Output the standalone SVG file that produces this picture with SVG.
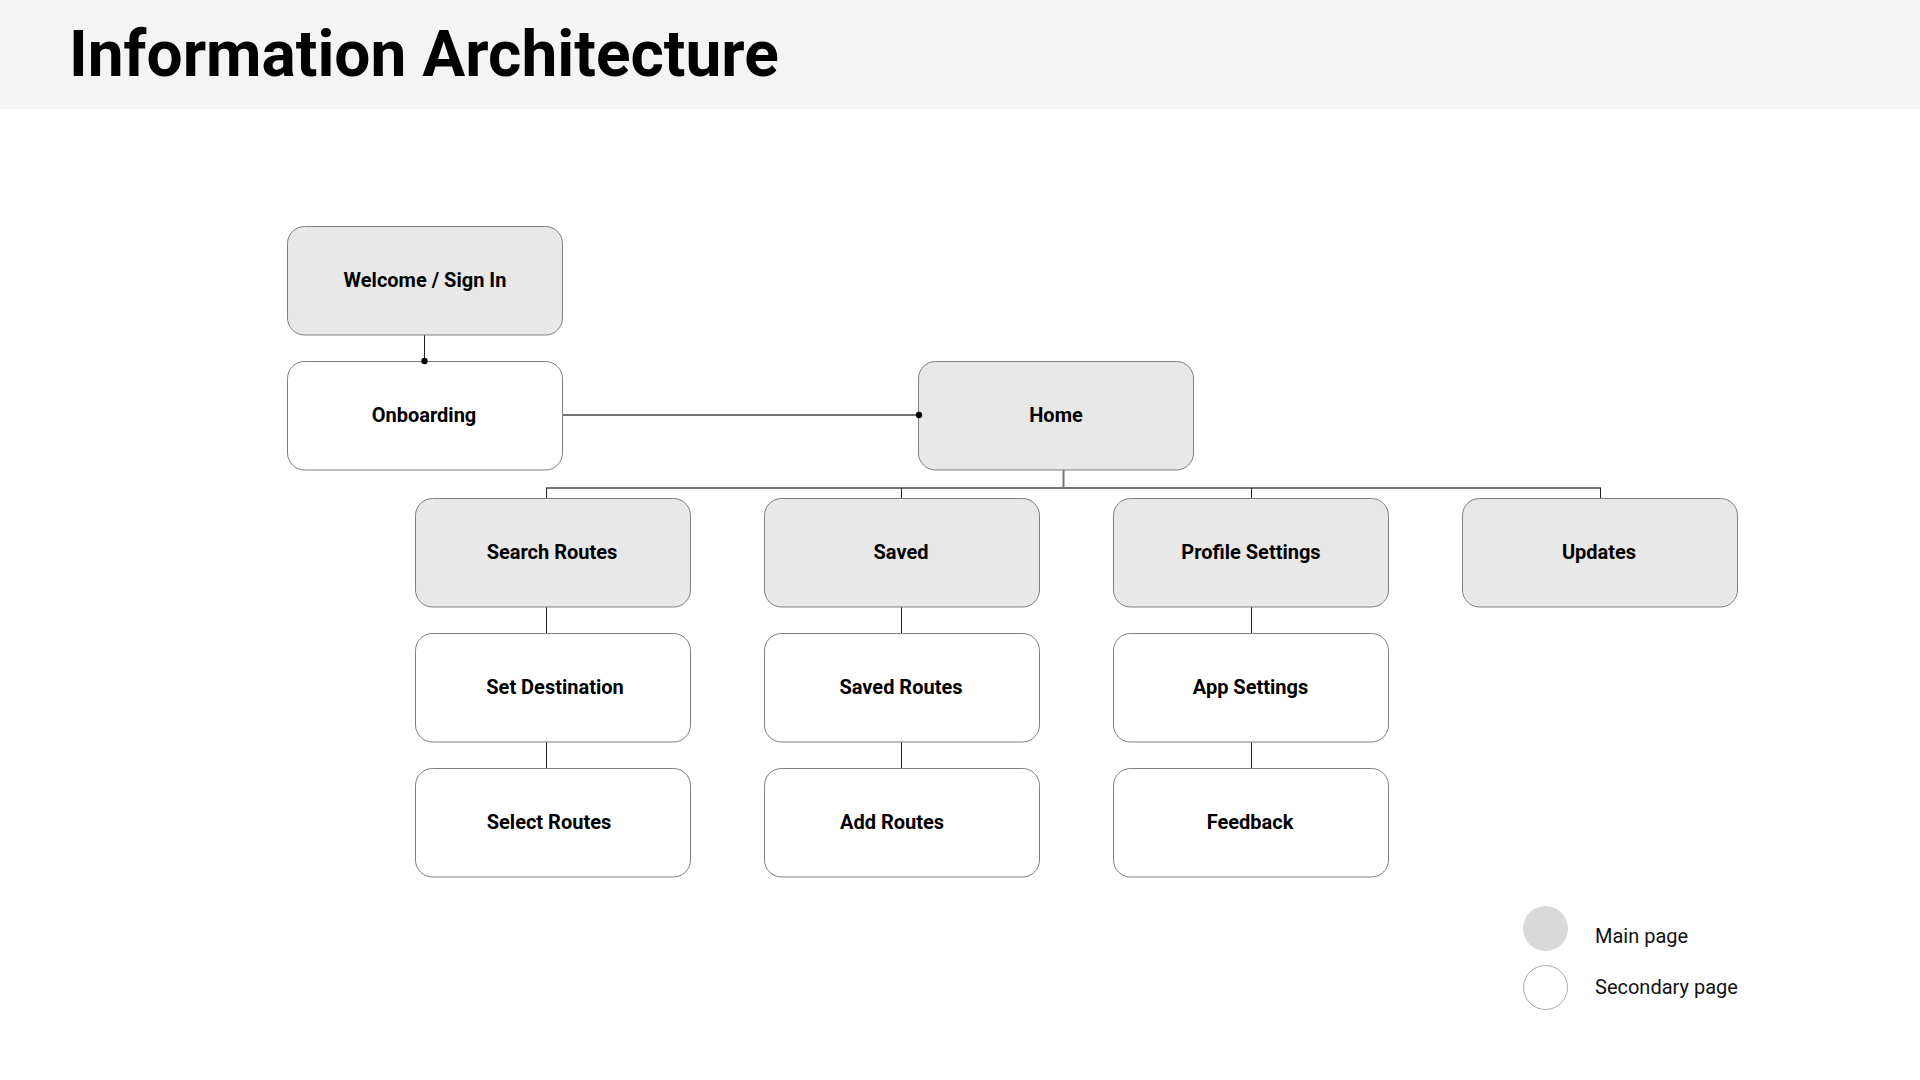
<svg xmlns="http://www.w3.org/2000/svg" width="1920" height="1080" viewBox="0 0 1920 1080">
<style>
.main{fill:#e8e8e8;stroke:#7f7f7f;stroke-width:1}
.sec{fill:#ffffff;stroke:#7f7f7f;stroke-width:1}
.lbl{font-family:Roboto,"Liberation Sans",sans-serif;font-weight:700;font-size:20px;fill:#000;text-anchor:middle}
.thick{stroke:#757575;stroke-width:2;fill:none}
.thin{stroke:#222;stroke-width:1;fill:none}
.leg{font-family:Roboto,"Liberation Sans",sans-serif;font-size:20px;fill:#111}
</style>
<rect width="1920" height="1080" fill="#ffffff"/>
<g id="header">
<rect x="0" y="0" width="1920" height="109" fill="#f4f4f4"/>
<text x="69" y="76" font-family="Roboto,'Liberation Sans',sans-serif" font-weight="700" font-size="64" fill="#000">Information Architecture</text>
</g>
<g id="connectors">
<line class="thin" x1="424.5" y1="335" x2="424.5" y2="361"/>
<line class="thick" x1="562" y1="415" x2="919" y2="415"/>
<line class="thick" x1="1063.5" y1="470" x2="1063.5" y2="488"/>
<line class="thick" x1="546" y1="488" x2="1601" y2="488"/>
<line class="thin" x1="546.5" y1="488" x2="546.5" y2="498"/>
<line class="thin" x1="901.5" y1="488" x2="901.5" y2="498"/>
<line class="thin" x1="1251.5" y1="488" x2="1251.5" y2="498"/>
<line class="thin" x1="1600.5" y1="488" x2="1600.5" y2="498"/>
<line class="thin" x1="546.5" y1="607" x2="546.5" y2="633"/>
<line class="thin" x1="546.5" y1="742" x2="546.5" y2="768"/>
<line class="thin" x1="901.5" y1="607" x2="901.5" y2="633"/>
<line class="thin" x1="901.5" y1="742" x2="901.5" y2="768"/>
<line class="thin" x1="1251.5" y1="607" x2="1251.5" y2="633"/>
<line class="thin" x1="1251.5" y1="742" x2="1251.5" y2="768"/>
</g>
<g id="node-welcome"><rect class="main" x="287.5" y="226.5" width="275" height="108.5" rx="17"/><text class="lbl" x="425" y="287">Welcome / Sign In</text></g>
<g id="node-onboarding"><rect class="sec" x="287.5" y="361.5" width="275" height="108.5" rx="17"/><text class="lbl" x="424" y="422">Onboarding</text></g>
<g id="node-home"><rect class="main" x="918.5" y="361.5" width="275" height="108.5" rx="17"/><text class="lbl" x="1056" y="422">Home</text></g>
<g id="node-search"><rect class="main" x="415.5" y="498.5" width="275" height="108.5" rx="17"/><text class="lbl" x="552" y="559">Search Routes</text></g>
<g id="node-saved"><rect class="main" x="764.5" y="498.5" width="275" height="108.5" rx="17"/><text class="lbl" x="901" y="559">Saved</text></g>
<g id="node-profile"><rect class="main" x="1113.5" y="498.5" width="275" height="108.5" rx="17"/><text class="lbl" x="1251" y="559">Profile Settings</text></g>
<g id="node-updates"><rect class="main" x="1462.5" y="498.5" width="275" height="108.5" rx="17"/><text class="lbl" x="1599" y="559">Updates</text></g>
<g id="node-setdest"><rect class="sec" x="415.5" y="633.5" width="275" height="108.5" rx="17"/><text class="lbl" x="555" y="694">Set Destination</text></g>
<g id="node-savedroutes"><rect class="sec" x="764.5" y="633.5" width="275" height="108.5" rx="17"/><text class="lbl" x="901" y="694">Saved Routes</text></g>
<g id="node-appsettings"><rect class="sec" x="1113.5" y="633.5" width="275" height="108.5" rx="17"/><text class="lbl" x="1250.5" y="694">App Settings</text></g>
<g id="node-selectroutes"><rect class="sec" x="415.5" y="768.5" width="275" height="108.5" rx="17"/><text class="lbl" x="549" y="829">Select Routes</text></g>
<g id="node-addroutes"><rect class="sec" x="764.5" y="768.5" width="275" height="108.5" rx="17"/><text class="lbl" x="892" y="829">Add Routes</text></g>
<g id="node-feedback"><rect class="sec" x="1113.5" y="768.5" width="275" height="108.5" rx="17"/><text class="lbl" x="1250" y="829">Feedback</text></g>
<g id="connector-dots">
<circle cx="424.5" cy="361" r="3.2" fill="#000"/>
<circle cx="919" cy="415" r="3.2" fill="#000"/>
</g>
<g id="legend">
<circle cx="1545.5" cy="928.5" r="22.5" fill="#d9d9d9"/>
<text class="leg" x="1595" y="943">Main page</text>
<circle cx="1545.5" cy="987.5" r="22" fill="#fff" stroke="#aaaaaa" stroke-width="1"/>
<text class="leg" x="1595" y="994">Secondary page</text>
</g>
</svg>
